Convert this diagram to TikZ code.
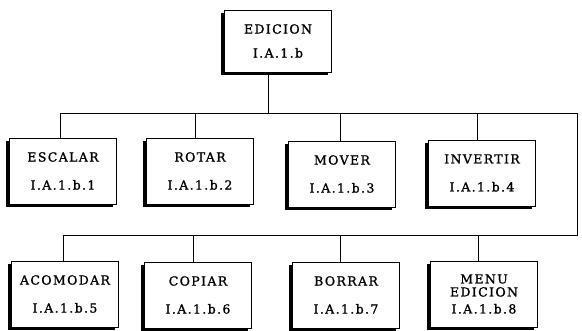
\documentclass[tikz,border=0pt]{standalone}
\usepackage{fontspec}
\newfontfamily\boxfont[LetterSpace=11,FakeBold=1.2]{DejaVu Serif}
\usetikzlibrary{shadows}
\begin{document}
\begin{tikzpicture}[x=1pt,y=-1pt]
\tikzstyle{mod}= [rectangle,draw,line width=0.9pt,fill=white,minimum width=107pt,minimum height=66pt,
	align=center,font=\boxfont\fontsize{12.5}{14}\selectfont,
	general shadow={fill=black,shadow xshift=-3.5pt,shadow yshift=-3.5pt}]
\tikzstyle{bus}= [line width=0.9pt]

\useasboundingbox (0,0) rectangle (582,331);
\path
	(278, 41) node[mod,minimum height=62pt] (edicion) {EDICION\\[10pt]I.A.1.b}
	( 63,171) node[mod] (escalar)  {ESCALAR\\[14pt]I.A.1.b.1}
	(200,171) node[mod] (rotar)    {ROTAR\\[14pt]I.A.1.b.2}
	(342,174) node[mod] (mover)    {MOVER\\[14pt]I.A.1.b.3}
	(482,173) node[mod] (invertir) {INVERTIR\\[14pt]I.A.1.b.4}
	( 65,294) node[mod] (acomodar) {ACOMODAR\\[14pt]I.A.1.b.5}
	(198,295) node[mod] (copiar)   {COPIAR\\[14pt]I.A.1.b.6}
	(346,295) node[mod] (borrar)   {BORRAR\\[14pt]I.A.1.b.7}
	(484,294) node[mod] (menu)     {MENU\\[-1pt]EDICION\\[3pt]I.A.1.b.8}
;
% buses
\coordinate (top) at (268,113);
\coordinate (b1w) at (60,113);
\coordinate (b1e) at (577,113);
\coordinate (b2w) at (63,235);
\coordinate (b2e) at (577,235);
\draw[bus] (top) -- (top |- edicion.south);
\draw[bus] (b1w) -- (b1e) -- (b2e) -- (b2w);
% drops to the first row
\draw[bus] (b1w) -- (b1w |- escalar.north);
\draw[bus] (195,113) -- (195,113 |- rotar.north);
\draw[bus] (340,113) -- (340,113 |- mover.north);
\draw[bus] (477,113) -- (477,113 |- invertir.north);
% drops to the second row
\draw[bus] (b2w) -- (b2w |- acomodar.north);
\draw[bus] (193,235) -- (193,235 |- copiar.north);
\draw[bus] (340,235) -- (340,235 |- borrar.north);
\draw[bus] (478,235) -- (478,235 |- menu.north);
\end{tikzpicture}
\end{document}
